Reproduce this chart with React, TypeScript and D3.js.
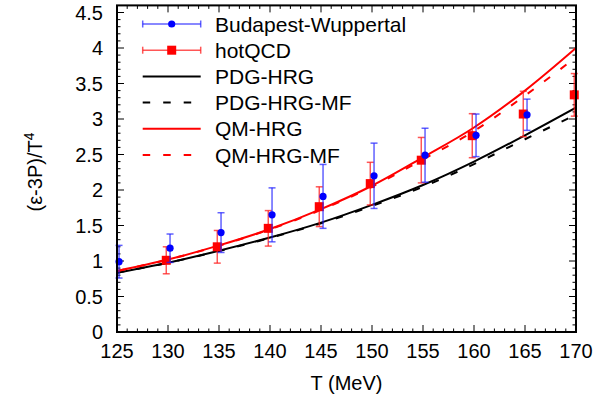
import React from 'react';
import * as d3 from 'd3';

const temps = [125, 130, 135, 140, 145, 150, 155, 160, 165, 170];

// Budapest-Wuppertal lattice data
const bwT = [125, 130, 135, 140, 145, 150, 155, 160, 165];
const bwVal = [0.99, 1.18, 1.40, 1.65, 1.91, 2.20, 2.49, 2.77, 3.06];
const bwErr = [0.23, 0.2, 0.28, 0.38, 0.45, 0.46, 0.38, 0.3, 0.22];

// hotQCD lattice data
const hqT = [130, 135, 140, 145, 150, 155, 160, 165, 170];
const hqVal = [1.01, 1.20, 1.46, 1.765, 2.09, 2.42, 2.765, 3.07, 3.34];
const hqErr = [0.19, 0.23, 0.25, 0.28, 0.3, 0.32, 0.31, 0.32, 0.3];

// model curves
const pdgHrg = [0.835, 0.975, 1.145, 1.33, 1.54, 1.79, 2.07, 2.40, 2.77, 3.16];
const pdgHrgMf = [0.835, 0.975, 1.14, 1.325, 1.53, 1.775, 2.045, 2.365, 2.715, 3.06];
const qmHrg = [0.86, 1.02, 1.22, 1.45, 1.73, 2.06, 2.46, 2.88, 3.40, 4.00];
const qmHrgMf = [0.86, 1.02, 1.215, 1.445, 1.72, 2.045, 2.43, 2.83, 3.33, 3.87];

const xTicks = [125, 130, 135, 140, 145, 150, 155, 160, 165, 170];
const yTicks = [0, 0.5, 1, 1.5, 2, 2.5, 3, 3.5, 4, 4.5];

const legendLabels = ['Budapest-Wuppertal', 'hotQCD', 'PDG-HRG', 'PDG-HRG-MF', 'QM-HRG', 'QM-HRG-MF'];

const W = 611;
const H = 405;
const L = 117, R = 576, T = 5.4, B = 332;
const FONT = '"Liberation Sans", Arial, Helvetica, sans-serif';
const FS = 20;
const LFS = 21;

export default function App() {
  const x = d3.scaleLinear().domain([125, 170]).range([L, R]);
  const y = d3.scaleLinear().domain([0, 4.6]).range([B, T]);

  const line = d3
    .line<number>()
    .x((_, i) => x(temps[i]))
    .y((d) => y(d))
    .curve(d3.curveMonotoneX);

  const minorX = d3.range(125, 171, 1).filter((v) => v % 5 !== 0);
  const minorY = d3.range(0, 46, 1).map((v) => v / 10).filter((v) => Math.round(v * 10) % 5 !== 0);

  const major = 7;
  const minor = 3.5;

  const curves = [
    { d: pdgHrg, color: '#000', dash: undefined },
    { d: pdgHrgMf, color: '#000', dash: '7.5 13' },
    { d: qmHrg, color: '#ff0000', dash: undefined },
    { d: qmHrgMf, color: '#ff0000', dash: '7.5 13' },
  ];

  const bwBar = 'rgba(30,30,255,0.7)';
  const hqBar = 'rgba(255,30,30,0.75)';
  const cap = 3.5;

  const legX0 = 142.7, legX1 = 200.7, legM = 171.7, legText = 215;
  const legY = (i: number) => 24 + i * 26.2;

  return (
    <svg
      width={W}
      height={H}
      style={{ position: 'absolute', left: 0, top: 0, background: '#fff' }}
      fontFamily={FONT}
    >
      <defs>
        <clipPath id="plot">
          <rect x={L} y={T} width={R - L} height={B - T} />
        </clipPath>
      </defs>
      <rect x={0} y={0} width={W} height={H} fill="#fff" />

      {/* ticks */}
      <g stroke="#000" strokeWidth={1}>
        {xTicks.map((v) => (
          <g key={'xt' + v}>
            <line x1={x(v)} x2={x(v)} y1={B} y2={B - major} />
            <line x1={x(v)} x2={x(v)} y1={T} y2={T + major} />
          </g>
        ))}
        {minorX.map((v) => (
          <g key={'xm' + v}>
            <line x1={x(v)} x2={x(v)} y1={B} y2={B - minor} />
            <line x1={x(v)} x2={x(v)} y1={T} y2={T + minor} />
          </g>
        ))}
        {yTicks.map((v) => (
          <g key={'yt' + v}>
            <line x1={L} x2={L + major} y1={y(v)} y2={y(v)} />
            <line x1={R} x2={R - major} y1={y(v)} y2={y(v)} />
          </g>
        ))}
        {minorY.map((v) => (
          <g key={'ym' + v}>
            <line x1={L} x2={L + minor} y1={y(v)} y2={y(v)} />
            <line x1={R} x2={R - minor} y1={y(v)} y2={y(v)} />
          </g>
        ))}
      </g>

      {/* curves */}
      <g clipPath="url(#plot)" fill="none" strokeWidth={2}>
        {curves.map((c, i) => (
          <path key={i} d={line(c.d) || ''} stroke={c.color} strokeDasharray={c.dash} />
        ))}
      </g>

      {/* hotQCD */}
      <g>
        {hqT.map((t, i) => {
          const cx = x(t - 0.17);
          const y1 = y(hqVal[i] + hqErr[i]);
          const y2 = y(hqVal[i] - hqErr[i]);
          return (
            <g key={'hq' + t} stroke={hqBar} strokeWidth={1.5}>
              <line x1={cx} x2={cx} y1={y1} y2={y2} />
              <line x1={cx - cap} x2={cx + cap} y1={y1} y2={y1} />
              <line x1={cx - cap} x2={cx + cap} y1={y2} y2={y2} />
              <rect x={cx - 4.5} y={y(hqVal[i]) - 4.5} width={9} height={9} fill="#ff0000" stroke="none" />
            </g>
          );
        })}
      </g>

      {/* Budapest-Wuppertal */}
      <g>
        {bwT.map((t, i) => {
          const cx = x(t + 0.2);
          const y1 = y(bwVal[i] + bwErr[i]);
          const y2 = y(bwVal[i] - bwErr[i]);
          return (
            <g key={'bw' + t} stroke={bwBar} strokeWidth={1.5}>
              <line x1={cx} x2={cx} y1={y1} y2={y2} />
              <line x1={cx - cap} x2={cx + cap} y1={y1} y2={y1} />
              <line x1={cx - cap} x2={cx + cap} y1={y2} y2={y2} />
              <circle cx={cx} cy={y(bwVal[i])} r={3.6} fill="#0000ff" stroke="none" />
            </g>
          );
        })}
      </g>

      {/* frame */}
      <rect x={L} y={T} width={R - L} height={B - T} fill="none" stroke="#000" strokeWidth={2} />

      {/* tick labels */}
      <g fontSize={FS} fill="#000">
        {xTicks.map((v) => (
          <text key={'xl' + v} x={x(v)} y={358} textAnchor="middle">
            {v}
          </text>
        ))}
        {yTicks.map((v) => (
          <text key={'yl' + v} x={103} y={y(v) + 7} textAnchor="end">
            {v}
          </text>
        ))}
      </g>

      {/* axis titles */}
      <text x={(L + R) / 2} y={390} textAnchor="middle" fontSize={FS}>
        T (MeV)
      </text>
      <text transform={`translate(42,${172}) rotate(-90)`} textAnchor="middle" fontSize={FS}>
        (ε-3P)/T<tspan dy={-8} fontSize={14}>4</tspan>
      </text>

      {/* legend */}
      <g fontSize={LFS}>
        {/* BW */}
        <g stroke={bwBar} strokeWidth={1.5}>
          <line x1={legX0} x2={legX1} y1={legY(0)} y2={legY(0)} />
          <line x1={legX0} x2={legX0} y1={legY(0) - cap} y2={legY(0) + cap} />
          <line x1={legX1} x2={legX1} y1={legY(0) - cap} y2={legY(0) + cap} />
        </g>
        <circle cx={legM} cy={legY(0)} r={3.6} fill="#0000ff" />
        {/* hotQCD */}
        <g stroke={hqBar} strokeWidth={1.5}>
          <line x1={legX0} x2={legX1} y1={legY(1)} y2={legY(1)} />
          <line x1={legX0} x2={legX0} y1={legY(1) - cap} y2={legY(1) + cap} />
          <line x1={legX1} x2={legX1} y1={legY(1) - cap} y2={legY(1) + cap} />
        </g>
        <rect x={legM - 4.5} y={legY(1) - 4.5} width={9} height={9} fill="#ff0000" />
        {curves.map((c, i) => (
          <line
            key={'lg' + i}
            x1={legX0}
            x2={legX1}
            y1={legY(i + 2)}
            y2={legY(i + 2)}
            stroke={c.color}
            strokeWidth={2}
            strokeDasharray={c.dash}
          />
        ))}
        {legendLabels.map((s, i) => (
          <text key={s} x={legText} y={legY(i) + 7.5} fill="#000">
            {s}
          </text>
        ))}
      </g>
    </svg>
  );
}
